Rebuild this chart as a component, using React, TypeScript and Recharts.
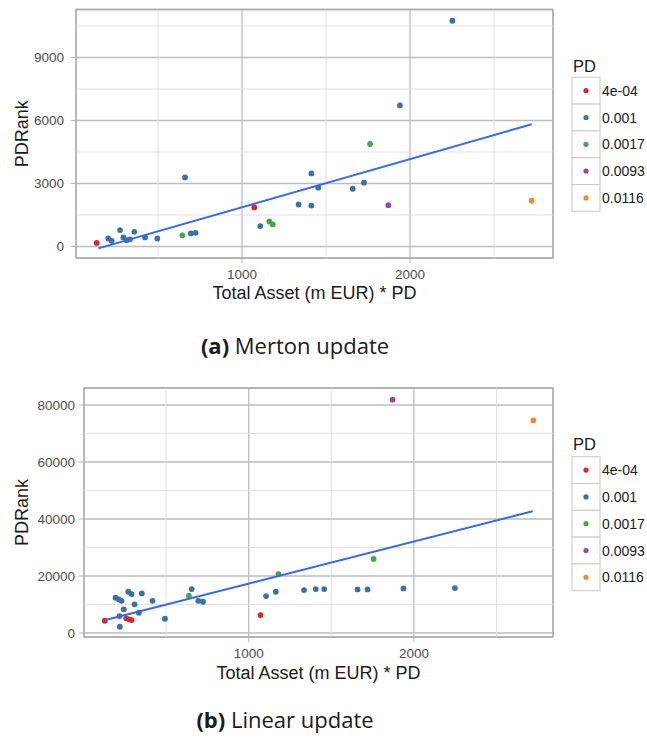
import {
  ComposedChart,
  Scatter,
  XAxis,
  YAxis,
  CartesianGrid,
  ReferenceLine,
  ReferenceArea,
} from "recharts";

const pdLevels = ["4e-04", "0.001", "0.0017", "0.0093", "0.0116"];
const pdColors = ["#d42a2f", "#3a72a3", "#4aa64b", "#924c9a", "#f08c2a"];

// (a) Merton update
const mertonX = [
  135, 204, 224, 274, 294, 313, 333, 359, 423, 496, 645, 661, 696, 724, 1073,
  1109, 1163, 1183, 1337, 1413, 1413, 1454, 1659, 1726, 1762, 1871, 1940, 2252,
  2724,
];
const mertonY = [
  170, 380, 270, 780, 430, 300, 340, 700, 430, 380, 530, 3290, 620, 650, 1860,
  970, 1190, 1050, 2000, 3480, 1950, 2800, 2750, 3040, 4880, 1970, 6720, 10750,
  2180,
];
const mertonPD = [
  0, 1, 1, 1, 1, 1, 1, 1, 1, 1, 2, 1, 1, 1, 0, 1, 2, 2, 1, 1, 1, 1, 1, 1, 2, 3,
  1, 1, 4,
];
const mertonFitX = [145, 2724];
const mertonFitY = [-90, 5820];
const mertonYTicks = [0, 3000, 6000, 9000];
const mertonYMinor = [1500, 4500, 7500, 10500];

// (b) Linear update
const linearX = [
  129, 194, 214, 230, 220, 218, 244, 259, 275, 291, 271, 291, 309, 335, 353,
  418, 493, 638, 655, 695, 723, 1071, 1105, 1164, 1180, 1335, 1406, 1457, 1659,
  1719, 1756, 1871, 1937, 2248, 2723,
];
const linearY = [
  4300, 12370, 11800, 11300, 2200, 5950, 8300, 5150, 4800, 4550, 14470, 13660,
  10050, 7110, 13900, 11300, 5000, 13070, 15400, 11300, 10970, 6300, 12960,
  14470, 20670, 15060, 15400, 15400, 15300, 15300, 26000, 81860, 15650, 15760,
  74600,
];
const linearPD = [
  0, 1, 1, 1, 1, 1, 1, 0, 0, 0, 1, 1, 1, 1, 1, 1, 1, 2, 1, 1, 1, 0, 1, 1, 2, 1,
  1, 1, 1, 1, 2, 3, 1, 1, 4,
];
const linearFitX = [133, 2719];
const linearFitY = [4550, 42730];
const linearYTicks = [0, 20000, 40000, 60000, 80000];
const linearYMinor = [10000, 30000, 50000, 70000];

const xTicks = [1000, 2000];
const xMinor = [500, 1500, 2500];

const FONT = "'Liberation Sans', Arial, sans-serif";

function PanelChart({
  xs,
  ys,
  pds,
  fitX,
  fitY,
  xDomain,
  yDomain,
  yTicks,
  yMinor,
  top,
  height,
  marginTop,
  yAxisWidth,
  xAxisHeight,
  yTickMargin,
}: any) {
  const groups = pdLevels.map((level, i) => ({
    level,
    color: pdColors[i],
    points: xs
      .map((x: number, j: number) => ({ x, y: ys[j], pd: pds[j] }))
      .filter((p: any) => p.pd === i),
  }));
  const fit = fitX.map((x: number, i: number) => ({ x, y: fitY[i] }));

  return (
    <div style={{ position: "absolute", left: 0, top }}>
      <ComposedChart
        width={647}
        height={height}
        margin={{ top: marginTop, right: 94, bottom: 0, left: 0 }}
      >
        {yMinor.map((v: number) => (
          <ReferenceLine key={"my" + v} y={v} stroke="#dcdcdc" strokeWidth={0.9} />
        ))}
        {xMinor.map((v: number) => (
          <ReferenceLine key={"mx" + v} x={v} stroke="#dcdcdc" strokeWidth={0.9} />
        ))}
        <CartesianGrid stroke="#bdbdbd" strokeWidth={1.3} />
        <XAxis
          type="number"
          dataKey="x"
          domain={xDomain}
          ticks={xTicks}
          allowDataOverflow
          height={xAxisHeight}
          axisLine={false}
          tickSize={5}
          tickMargin={6}
          tickLine={{ stroke: "#b3b3b3" }}
          tick={{ fill: "#4d4d4d", fontSize: 13.5, fontFamily: FONT }}
          label={{
            value: "Total Asset (m EUR) * PD",
            position: "insideBottom",
            offset: 11,
            fill: "#1a1a1a",
            fontSize: 18,
            fontFamily: FONT,
          }}
        />
        <YAxis
          type="number"
          dataKey="y"
          domain={yDomain}
          ticks={yTicks}
          allowDataOverflow
          width={yAxisWidth}
          axisLine={false}
          tickSize={5}
          tickMargin={yTickMargin}
          tickLine={{ stroke: "#b3b3b3" }}
          tick={{ fill: "#4d4d4d", fontSize: 13.5, fontFamily: FONT }}
          label={{
            value: "PDRank",
            angle: -90,
            position: "insideLeft",
            offset: 21.5,
            fill: "#1a1a1a",
            fontSize: 18,
            fontFamily: FONT,
            style: { textAnchor: "middle" },
          }}
        />
        <ReferenceArea
          x1={xDomain[0]}
          x2={xDomain[1]}
          y1={yDomain[0]}
          y2={yDomain[1]}
          ifOverflow="visible"
          fill="#ffffff"
          fillOpacity={0}
          stroke="#aaaaaa"
          strokeOpacity={1}
          strokeWidth={1.3}
        />
        {groups.map((g) => (
          <Scatter
            key={g.level}
            data={g.points}
            isAnimationActive={false}
            shape={(p: any) => (
              <circle cx={p.cx} cy={p.cy} r={2.9} fill={g.color} />
            )}
          />
        ))}
        <Scatter
          data={fit}
          isAnimationActive={false}
          line={{ stroke: "#3366ff", strokeWidth: 2 }}
          shape={() => <g />}
        />
      </ComposedChart>
    </div>
  );
}

function LegendBox({ top, titleBaseline }: { top: number; titleBaseline: number }) {
  const rowH = 26.8;
  return (
    <g>
      <text x={573} y={titleBaseline} fontSize={16.5} fontFamily={FONT} fill="#1a1a1a">
        PD
      </text>
      {pdLevels.map((lvl, i) => (
        <g key={lvl}>
          <rect
            x={572}
            y={top + i * rowH}
            width={28}
            height={rowH}
            fill="#ffffff"
            stroke="#c8c8c8"
          />
          <circle cx={586} cy={top + i * rowH + rowH / 2} r={2.6} fill={pdColors[i]} />
          <text
            x={602}
            y={top + i * rowH + rowH / 2 + 5}
            fontSize={14}
            fontFamily={FONT}
            fill="#1a1a1a"
          >
            {lvl}
          </text>
        </g>
      ))}
    </g>
  );
}

export default function App() {
  return (
    <div
      style={{
        position: "absolute",
        left: 0,
        top: 0,
        width: 647,
        height: 740,
        background: "#ffffff",
        overflow: "hidden",
      }}
    >
      <PanelChart
        xs={mertonX}
        ys={mertonY}
        pds={mertonPD}
        fitX={mertonFitX}
        fitY={mertonFitY}
        xDomain={[12, 2851]}
        yDomain={[-548, 11286]}
        yTicks={mertonYTicks}
        yMinor={mertonYMinor}
        top={0}
        height={310}
        marginTop={9.5}
        yAxisWidth={76}
        xAxisHeight={52}
        yTickMargin={7}
      />
      <PanelChart
        xs={linearX}
        ys={linearY}
        pds={linearPD}
        fitX={linearFitX}
        fitY={linearFitY}
        xDomain={[3, 2842]}
        yDomain={[-1400, 85960]}
        yTicks={linearYTicks}
        yMinor={linearYMinor}
        top={370}
        height={320}
        marginTop={18}
        yAxisWidth={84}
        xAxisHeight={53}
        yTickMargin={4}
      />
      <svg
        width={647}
        height={740}
        style={{ position: "absolute", left: 0, top: 0, pointerEvents: "none" }}
      >
        <LegendBox top={77.3} titleBaseline={72} />
        <LegendBox top={456.7} titleBaseline={450} />
        <text
          x={295}
          y={353.5}
          textAnchor="middle"
          fontSize={22}
          fontFamily="'Open Sans', sans-serif"
          fill="#1a1a1a"
        >
          <tspan fontWeight="bold">(a)</tspan> Merton update
        </text>
        <text
          x={285}
          y={728}
          textAnchor="middle"
          fontSize={22}
          fontFamily="'Open Sans', sans-serif"
          fill="#1a1a1a"
        >
          <tspan fontWeight="bold">(b)</tspan> Linear update
        </text>
      </svg>
    </div>
  );
}
